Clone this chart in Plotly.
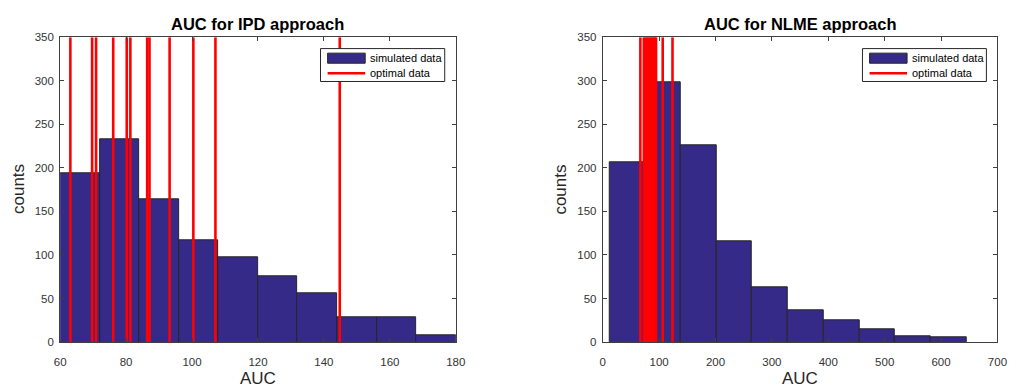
import plotly.graph_objects as go

# ---- data -------------------------------------------------------------
ipd_bin_start = 60.0
ipd_bin_width = 12.0
ipd_counts = [194, 233, 164, 117, 97, 75, 56, 28, 28, 8]
ipd_optimal = [63.1, 69.7, 70.9, 76.1, 80.2, 81.3, 86.4, 87.1, 93.2, 100.4, 107.1, 144.8]

nlme_bin_start = 11.7
nlme_bin_width = 63.35
nlme_counts = [207, 298, 226, 116, 63, 36, 25, 15, 7, 6]
nlme_optimal = [66.7, 72.9, 75.6, 78.3, 81.0, 83.4, 85.9, 88.2, 90.7, 92.8, 94.5, 106.3, 123.7]

titles = ["AUC for IPD approach", "AUC for NLME approach"]
x_label = "AUC"
y_label = "counts"
legend_labels = ["simulated data", "optimal data"]
y_max = 350

# ---- styling ----------------------------------------------------------
W, H = 1017, 390
BAR_FILL = "#352a87"
BAR_EDGE = "#262626"
RED = "#ff0000"
AX_COLOR = "#404040"
FONT = "Liberation Sans, Arial, Helvetica, sans-serif"

fig = go.Figure()


def add_hist(start, width, counts, optimal, xa, ya):
    centers = [start + width * (i + 0.5) for i in range(len(counts))]
    fig.add_trace(go.Bar(
        x=centers, y=counts, width=[width] * len(counts),
        marker=dict(color=BAR_FILL, line=dict(color=BAR_EDGE, width=1)),
        name=legend_labels[0], showlegend=False, xaxis=xa, yaxis=ya,
    ))
    xs, ys = [], []
    for v in optimal:
        xs += [v, v, None]
        ys += [0, y_max, None]
    fig.add_trace(go.Scatter(
        x=xs, y=ys, mode="lines", line=dict(color=RED, width=2.6),
        name=legend_labels[1], showlegend=False, xaxis=xa, yaxis=ya,
    ))


add_hist(ipd_bin_start, ipd_bin_width, ipd_counts, ipd_optimal, "x", "y")
add_hist(nlme_bin_start, nlme_bin_width, nlme_counts, nlme_optimal, "x2", "y2")

# axes placement (pixel boxes converted to paper fractions)
left_box = (55, 457)
right_box = (606.3, 1007.3)
top_px, bot_px = 32.3, 346.7
ydom = [1 - bot_px / H, 1 - top_px / H]

axis_common = dict(
    showline=True, mirror="ticks", linecolor=AX_COLOR, linewidth=1,
    ticks="inside", ticklen=4, tickcolor=AX_COLOR, tickwidth=1,
    showgrid=False, zeroline=False,
    tickfont=dict(family=FONT, size=11.5, color="#333333"),
)

fig.update_layout(
    width=W, height=H, autosize=False,
    margin=dict(l=0, r=0, t=0, b=0),
    paper_bgcolor="white", plot_bgcolor="white",
    bargap=0, barmode="overlay", showlegend=False,
    xaxis=dict(domain=[left_box[0] / W, left_box[1] / W], range=[60, 180],
               tickvals=[60, 80, 100, 120, 140, 160, 180], anchor="y",
               ticklabelstandoff=9, **axis_common),
    yaxis=dict(domain=ydom, range=[0, y_max], tickvals=list(range(0, 351, 50)),
               anchor="x", ticklabelstandoff=3, **axis_common),
    xaxis2=dict(domain=[right_box[0] / W, right_box[1] / W], range=[0, 700],
                tickvals=list(range(0, 701, 100)), anchor="y2",
                ticklabelstandoff=9, **axis_common),
    yaxis2=dict(domain=ydom, range=[0, y_max], tickvals=list(range(0, 351, 50)),
                anchor="x2", ticklabelstandoff=3, **axis_common),
)

shapes = []
annotations = []
for i, (box, ax) in enumerate([(left_box, ""), (right_box, "2")]):
    xref = f"x{ax} domain"
    yref = f"y{ax} domain"
    cx = (box[0] + box[1]) / 2 / W
    # title
    annotations.append(dict(
        text=f"<b>{titles[i]}</b>", x=cx, y=1 - 19 / H, xref="paper", yref="paper",
        xanchor="center", yanchor="middle", showarrow=False,
        font=dict(family=FONT, size=16.5, color="#000000"),
    ))
    # x label
    annotations.append(dict(
        text=x_label, x=cx, y=1 - 384 / H, xref="paper", yref="paper",
        xanchor="center", yanchor="middle", showarrow=False,
        font=dict(family=FONT, size=17, color="#262626"),
    ))
    # y label
    annotations.append(dict(
        text=y_label, x=(box[0] - 43) / W, y=1 - 189 / H, xref="paper", yref="paper",
        xanchor="center", yanchor="middle", showarrow=False, textangle=-90,
        font=dict(family=FONT, size=17, color="#262626"),
    ))
    # legend box
    shapes.append(dict(type="rect", xref=xref, yref=yref, x0=0.658, x1=0.972,
                       y0=0.855, y1=0.963, fillcolor="white",
                       line=dict(color="#262626", width=1), layer="above"))
    shapes.append(dict(type="rect", xref=xref, yref=yref, x0=0.676, x1=0.771,
                       y0=0.915, y1=0.948, fillcolor=BAR_FILL,
                       line=dict(color=BAR_EDGE, width=1), layer="above"))
    shapes.append(dict(type="line", xref=xref, yref=yref, x0=0.676, x1=0.771,
                       y0=0.882, y1=0.882, line=dict(color=RED, width=2.6),
                       layer="above"))
    for j, yy in enumerate([0.932, 0.882]):
        annotations.append(dict(
            text=legend_labels[j], x=0.779, y=yy, xref=xref, yref=yref,
            xanchor="left", yanchor="middle", showarrow=False,
            font=dict(family=FONT, size=11, color="#000000"),
        ))

fig.update_layout(shapes=shapes, annotations=annotations)
fig.write_html("out.html")
